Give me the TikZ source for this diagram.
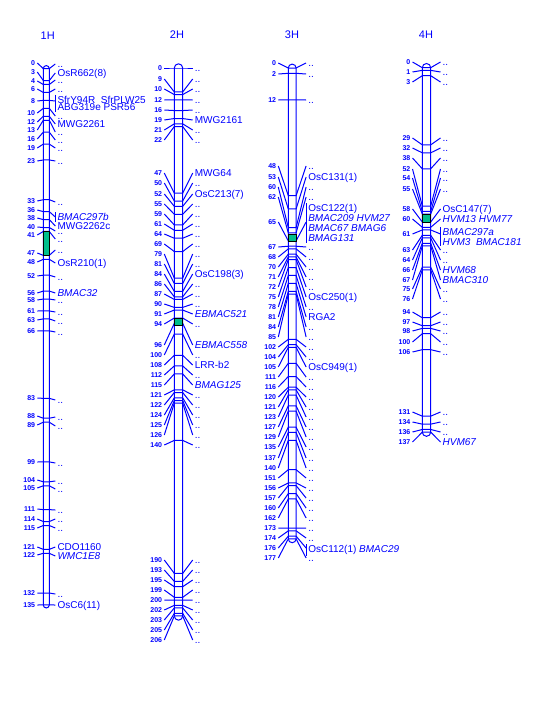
\documentclass[tikz,border=0pt]{standalone}
\usepackage{fontspec}
\setmainfont{Liberation Sans}
\definecolor{qtlgreen}{RGB}{0,190,140}

\begin{document}
\begin{tikzpicture}[x=1pt,y=-1pt,
    chrom/.style={draw=blue, line width=1pt},
    mline/.style={blue, line width=1pt},
    num/.style={anchor=east, inner sep=2pt, text=blue, text height=5pt, text depth=0pt, font=\fontsize{7}{7}\selectfont\bfseries},
    lab/.style={anchor=west, inner xsep=2pt, inner ysep=0pt, text=blue, text height=7pt, text depth=0pt, font=\fontsize{10}{10}\selectfont},
    grp/.style={anchor=west, align=left, inner xsep=2pt, inner ysep=1pt, text=blue},
    title/.style={text=blue, font=\fontsize{11}{11}\selectfont},
    qtl/.style={fill=qtlgreen, draw=black, line width=0.8pt}
  ]
  \useasboundingbox (0,0) rectangle (540,720);

  % 1H
  \def\cx{46.3}\def\hw{3}\def\arm{6}\def\ya{68.6}\def\yb{3.973}
  \node[title] (t1) at (47.7,36) {1H};
  \draw[chrom, rounded corners=3pt] (\cx-\hw,\ya-\hw) rectangle (\cx+\hw,{\ya+\yb*135+\hw});
  \foreach \c/\ly/\ry/\t in {0/63/64/{..}, 3/72/73/{OsR662(8)}, 4/81/80/{..}, 6/89/89/{..},
      8/101/101/{}, 10/113/116/{..}, 12/122/124/{MWG2261}, 13/130/132/{..}, 16/139/140/{..},
      19/148/148/{..}, 23/161/161/{..}, 33/201/202/{..}, 36/210/217/{}, 38/218/226/{MWG2262c},
      40/227/231/{..}, 41/235/239/{..}, 47/253/250/{..}, 48/262/263/{OsR210(1)},
      52/276/277/{..}, 56/293/293/{\textit{BMAC32}}, 58/300/300/{..}, 61/311/312/{..},
      63/320/321/{..}, 66/331/332/{..}, 83/398/400/{..}, 88/416/417/{..}, 89/425/426/{..},
      99/462/463/{..}, 104/480/481/{..}, 105/488/489/{..}, 111/509/510/{..},
      114/519/519/{..}, 115/528/528/{..}, 121/547/547/{CDO1160},
      122/555/556/{\textit{WMC1E8}}, 132/593/594/{..}, 135/605/605/{OsC6(11)}}{
    \pgfmathsetmacro\my{\ya+\yb*\c}
    \node[num] (n1-\c) at ({\cx-\hw-\arm},\ly) {\c};
    \node[lab] (l1-\c) at ({\cx+\hw+\arm},\ry) {\t};
    \draw[mline] (n1-\c.east) -- ({\cx-\hw},\my) -- ({\cx+\hw},\my) -- (l1-\c.west);
  }
  \draw[qtl] (\cx-\hw,{\ya+\yb*41}) rectangle (\cx+\hw,{\ya+\yb*47});
  \node[grp, font=\fontsize{10}{7.4}\selectfont] (g1-8) at (55.3,103.4) {SfrY94R~~SfrPLW25\\ABG319e PSR56};
  \draw[mline] (g1-8.north west) -- (g1-8.south west);
  \node[grp, font=\fontsize{10}{10}\selectfont] (g1-36) at (55.3,217) {\textit{BMAC297b}};
  \draw[mline] (g1-36.north west) -- (g1-36.south west);

  % 2H
  \def\cx{178.5}\def\hw{4.2}\def\arm{10}\def\ya{68}\def\yb{2.66}
  \node[title] (t2) at (177,35) {2H};
  \draw[chrom, rounded corners=4.2pt] (\cx-\hw,\ya-\hw) rectangle (\cx+\hw,{\ya+\yb*206+\hw});
  \foreach \c/\ly/\t in {0/68/{..}, 9/79/{..}, 10/89/{..}, 12/100/{..}, 16/110/{..},
      19/120/{MWG2161}, 21/130/{..}, 22/140/{..}, 47/173/{MWG64}, 50/183/{..},
      52/194/{OsC213(7)}, 55/204/{..}, 59/214/{..}, 61/224/{..}, 64/234/{..}, 69/244/{..},
      79/254/{..}, 81/264/{..}, 84/274/{OsC198(3)}, 86/284/{..}, 87/294/{..}, 90/304/{..},
      91/314/{\textit{EBMAC521}}, 94/324/{..}, 96/345/{\textit{EBMAC558}}, 100/355/{..},
      108/365/{LRR-b2}, 112/375/{..}, 115/385/{\textit{BMAG125}}, 121/395/{..},
      122/405/{..}, 124/415/{..}, 125/425/{..}, 126/435/{..}, 140/445/{..},
      190/560/{..}, 193/570/{..}, 195/580/{..}, 199/590/{..}, 200/600/{..},
      202/610/{..}, 203/620/{..}, 205/630/{..}, 206/640/{..}}{
    \pgfmathsetmacro\my{\ya+\yb*\c}
    \node[num] (n2-\c) at ({\cx-\hw-\arm},\ly) {\c};
    \node[lab] (l2-\c) at ({\cx+\hw+\arm},\ly) {\t};
    \draw[mline] (n2-\c.east) -- ({\cx-\hw},\my) -- ({\cx+\hw},\my) -- (l2-\c.west);
  }
  \draw[qtl] (\cx-\hw,{\ya+\yb*94}) rectangle (\cx+\hw,{\ya+\yb*96.8});

  % 3H
  \def\cx{292.2}\def\hw{3.9}\def\arm{10}\def\ya{68}\def\yb{2.66}
  \node[title] (t3) at (292,35) {3H};
  \draw[chrom, rounded corners=3.9pt] (\cx-\hw,\ya-\hw) rectangle (\cx+\hw,{\ya+\yb*177+\hw});
  \foreach \c/\ly/\t in {0/63/{..}, 2/74/{..}, 12/100/{..}, 48/166/{..}, 53/177/{OsC131(1)},
      60/187/{..}, 62/197/{..}, 65/222/{}, 67/247/{..}, 68/257/{..}, 70/267/{..},
      71/277/{..}, 72/287/{..}, 75/297/{OsC250(1)}, 78/307/{..}, 81/317/{RGA2},
      84/327/{..}, 85/337/{..}, 102/347/{..}, 104/357/{..}, 105/367/{OsC949(1)},
      111/377/{..}, 116/387/{..}, 120/397/{..}, 121/407/{..}, 123/417/{..}, 127/427/{..},
      129/437/{..}, 135/447/{..}, 137/458/{..}, 140/468/{..}, 151/478/{..}, 156/488/{..},
      157/498/{..}, 160/508/{..}, 162/518/{..}, 173/528/{..}, 174/538/{..}, 176/548/{},
      177/558/{..}}{
    \pgfmathsetmacro\my{\ya+\yb*\c}
    \node[num] (n3-\c) at ({\cx-\hw-\arm},\ly) {\c};
    \node[lab] (l3-\c) at ({\cx+\hw+\arm},\ly) {\t};
    \draw[mline] (n3-\c.east) -- ({\cx-\hw},\my) -- ({\cx+\hw},\my) -- (l3-\c.west);
  }
  \draw[qtl] (\cx-\hw,{\ya+\yb*62.5}) rectangle (\cx+\hw,{\ya+\yb*65.2});
  \node[grp, font=\fontsize{10}{10}\selectfont] (g3-65) at (306.1,223) {OsC122(1)\\\textit{BMAC209 HVM27}\\\textit{BMAC67 BMAG6}\\\textit{BMAG131}};
  \draw[mline] (g3-65.north west) -- (g3-65.south west);
  \node[grp, font=\fontsize{10}{10}\selectfont] (g3-176) at (306.1,550) {OsC112(1) \textit{BMAC29}};
  \draw[mline] (g3-176.north west) -- (g3-176.south west);

  % 4H
  \def\cx{426.5}\def\hw{4.2}\def\arm{9.8}\def\ya{67.7}\def\yb{2.66}
  \node[title] (t4) at (426,35) {4H};
  \draw[chrom, rounded corners=4.2pt] (\cx-\hw,\ya-\hw) rectangle (\cx+\hw,{\ya+\yb*137+\hw});
  \foreach \c/\ly/\t in {0/62/{..}, 1/72/{..}, 3/82/{..}, 29/138/{..}, 32/148/{..},
      38/158/{..}, 52/169/{..}, 54/178/{..}, 55/189/{..}, 58/209/{OsC147(7)},
      60/219/{\textit{HVM13 HVM77}}, 61/234/{}, 63/250/{..}, 64/260/{..},
      66/270/{\textit{HVM68}}, 67/280/{\textit{BMAC310}}, 75/289/{..}, 76/299/{..},
      94/312/{..}, 97/322/{..}, 98/331/{..}, 100/342/{..}, 106/352/{..},
      131/412/{..}, 134/422/{..}, 136/432/{..}, 137/442/{\textit{HVM67}}}{
    \pgfmathsetmacro\my{\ya+\yb*\c}
    \node[num] (n4-\c) at ({\cx-\hw-\arm},\ly) {\c};
    \node[lab] (l4-\c) at ({\cx+\hw+\arm},\ly) {\t};
    \draw[mline] (n4-\c.east) -- ({\cx-\hw},\my) -- ({\cx+\hw},\my) -- (l4-\c.west);
  }
  \draw[qtl] (\cx-\hw,{\ya+\yb*55.3}) rectangle (\cx+\hw,{\ya+\yb*58.3});
  \node[grp, font=\fontsize{10}{10}\selectfont] (g4-61) at (440.5,236.7) {\textit{BMAC297a}\\\textit{HVM3~~BMAC181}};
  \draw[mline] (g4-61.north west) -- (g4-61.south west);
\end{tikzpicture}
\end{document}
